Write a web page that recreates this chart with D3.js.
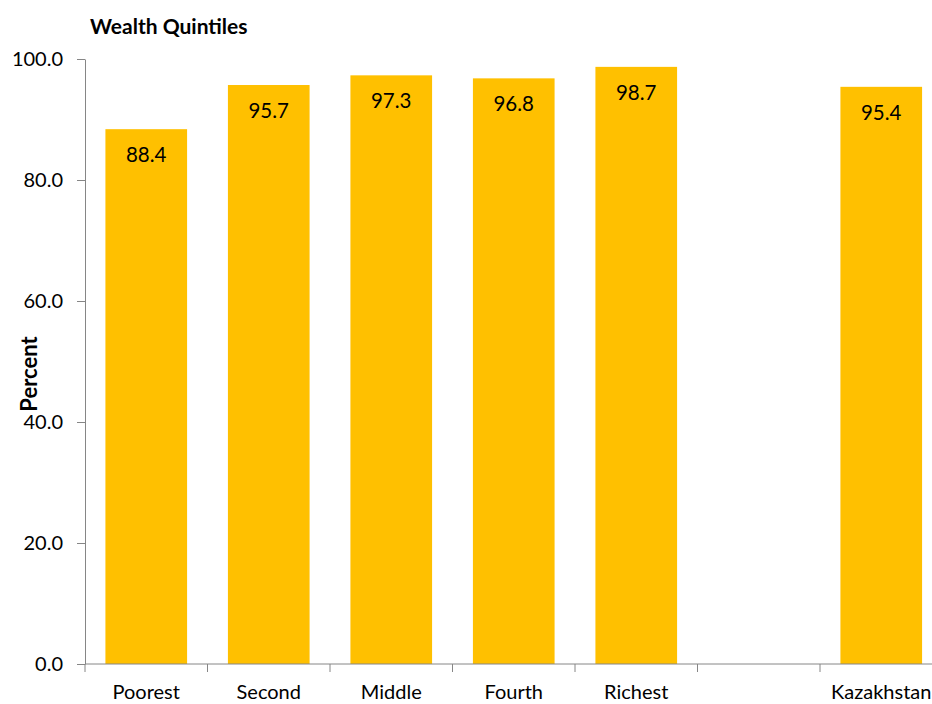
<!DOCTYPE html>
<meta charset="utf-8">
<script src="https://d3js.org/d3.v7.min.js"></script>
<style>
  body { margin: 0; background: #fff; }
  text { font-family: Lato, "Open Sans", sans-serif; fill: #000; }
</style>
<div id="chart"></div>
<script>
    // data
    var categories = ["Poorest", "Second", "Middle", "Fourth", "Richest", "", "Kazakhstan"];
    var values = [88.4, 95.7, 97.3, 96.8, 98.7, null, 95.4];
    var yTicks = [0, 20, 40, 60, 80, 100];

    var W = 932, H = 704;
    var margin = {top: 59, right: -10.5, bottom: 40, left: 85},
        width = W - margin.left - margin.right,
        height = H - margin.top - margin.bottom;

    var svg = d3.select("#chart").append("svg")
        .attr("width", W)
        .attr("height", H)
      .append("g")
        .attr("transform", "translate(" + margin.left + "," + margin.top + ")");

    var x = d3.scaleBand()
        .domain(d3.range(categories.length))
        .range([0, width])
        .paddingInner(1 / 3)
        .paddingOuter(1 / 6);

    var y = d3.scaleLinear()
        .domain([0, 100])
        .range([height, 0]);

    // bars
    var data = categories.map((c, i) => ({cat: c, val: values[i], i: i})).filter(d => d.val != null);

    svg.selectAll(".bar")
      .data(data)
      .enter().append("rect")
        .attr("class", "bar")
        .attr("x", d => x(d.i))
        .attr("y", d => y(d.val))
        .attr("width", x.bandwidth())
        .attr("height", d => y(0) - y(d.val))
        .attr("fill", "#FFC000");

    svg.selectAll(".val")
      .data(data)
      .enter().append("text")
        .attr("x", d => x(d.i) + x.bandwidth() / 2)
        .attr("y", d => y(d.val) + 33)
        .attr("text-anchor", "middle")
        .style("font-size", "20.5px")
        .text(d => d.val.toFixed(1));

    // y axis
    var yAxis = svg.append("g")
        .call(d3.axisLeft(y).tickValues(yTicks).tickFormat(d3.format(".1f")).tickSize(8).tickSizeOuter(0));
    yAxis.select(".domain").attr("stroke", "#868686");
    yAxis.selectAll(".tick line").attr("stroke", "#868686");
    yAxis.selectAll(".tick text")
        .attr("x", -22)
        .style("font-size", "20px")
        .style("font-family", "Lato, sans-serif");

    // x axis with ticks between categories
    var xg = svg.append("g").attr("transform", "translate(0," + height + ")");
    var step = x.step();
    xg.append("line")
        .attr("x1", 0).attr("x2", width)
        .attr("stroke", "#868686");
    xg.selectAll(".xt")
      .data(d3.range(categories.length + 1))
      .enter().append("line")
        .attr("x1", i => i * step)
        .attr("x2", i => i * step)
        .attr("y1", 0).attr("y2", 8)
        .attr("stroke", "#868686");
    xg.selectAll(".xl")
      .data(categories)
      .enter().append("text")
        .attr("x", (d, i) => x(i) + x.bandwidth() / 2)
        .attr("y", 35)
        .attr("text-anchor", "middle")
        .style("font-size", "20px")
        .text(d => d);

    // titles
    svg.append("text")
        .attr("x", 90 - margin.left)
        .attr("y", 34 - margin.top)
        .style("font-size", "21px")
        .style("font-weight", "bold")
        .text("Wealth Quintiles");

    svg.append("text")
        .attr("transform", "translate(" + (37 - margin.left) + "," + (374 - margin.top) + ")rotate(-90)")
        .attr("text-anchor", "middle")
        .style("font-size", "22px")
        .style("font-weight", "bold")
        .text("Percent");
</script>
